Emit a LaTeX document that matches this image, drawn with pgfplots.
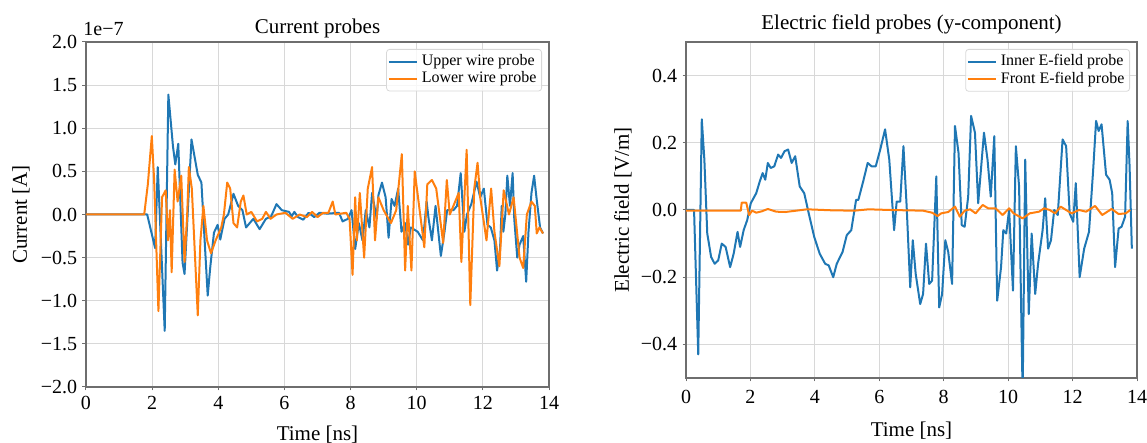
\documentclass[border=0pt]{standalone}
\usepackage{fontspec}
\setmainfont{Liberation Serif}
\usepackage{pgfplots}
\pgfplotsset{compat=1.18}
\definecolor{tabblue}{HTML}{1F77B4}
\definecolor{taborange}{HTML}{FF7F0E}
\definecolor{spine}{HTML}{6E6E6E}
\definecolor{gridc}{HTML}{D8D8D8}
\pgfplotsset{
  mystyle/.style={
    scale only axis,
    xmin=0,xmax=14, xtick={0,2,...,14},
    xticklabels={0,2,4,6,8,10,12,14},
    tick align=outside, tick pos=left,
    major tick length=1.75pt,
    every tick/.style={spine, line width=0.5pt},
    axis line style={spine, line width=0.6pt},
    grid=major, major grid style={gridc, line width=0.5pt},
    tick label style={font=\fontsize{10}{12}\selectfont, inner sep=0pt},
    yticklabel style={xshift=-2.5pt},
    label style={font=\fontsize{10.5}{12}\selectfont},
    title style={font=\fontsize{10.5}{12}\selectfont},
    legend style={font=\fontsize{8}{9}\selectfont, draw=gridc, rounded corners=1.5pt,
      fill=white, fill opacity=0.8, text opacity=1, anchor=north east,
      at={(rel axis cs:1,1)}, xshift=-3.5pt, yshift=-3.5pt, inner sep=0.6pt,
      row sep=-2.5pt, cells={anchor=west}},
    legend image code/.code={\draw[#1] (0pt,0pt) -- (14pt,0pt);},
    legend cell align=left,
    every axis plot/.append style={line width=1pt, line join=round},
  }
}
\pgfplotstableread{
t v
0 0
1.85 0
2.09 -0.39
2.17 0.55
2.38 -1.35
2.49 1.39
2.63 0.79
2.70 0.58
2.79 0.82
2.92 -0.56
2.98 -0.69
3.19 0.87
3.38 0.46
3.49 0.37
3.68 -0.94
3.76 -0.6
3.87 -0.21
3.98 -0.12
4.06 -0.29
4.19 -0.05
4.30 0.0
4.46 0.24
4.60 0.10
4.73 0.05
4.84 -0.15
5.06 -0.05
5.25 -0.17
5.44 -0.05
5.60 -0.02
5.76 0.12
5.92 0.05
6.14 0.03
6.22 -0.02
6.30 0.03
6.41 -0.03
6.57 -0.06
6.73 0.02
6.90 -0.03
7.06 0.02
7.3 0.01
7.65 0.02
7.76 -0.08
7.92 -0.05
8.03 0.05
8.14 -0.40
8.25 -0.10
8.36 -0.30
8.46 0.05
8.57 -0.15
8.65 0.25
8.79 -0.05
8.84 0.22
8.95 0.37
9.06 0.20
9.15 -0.27
9.24 0.18
9.33 0.10
9.44 0.30
9.54 -0.20
9.65 -0.10
9.74 -0.35
9.82 -0.15
10.03 -0.20
10.19 -0.30
10.30 0.15
10.36 -0.05
10.46 -0.30
10.57 0.10
10.73 -0.48
10.84 -0.20
10.92 0.05
11.11 0.05
11.22 0.10
11.33 0.48
11.44 -0.20
11.52 0.00
11.65 0.12
11.81 0.38
11.92 0.20
12.03 0.30
12.14 -0.12
12.24 -0.15
12.35 -0.30
12.43 -0.65
12.52 -0.40
12.57 0.10
12.62 -0.20
12.68 0.00
12.74 0.45
12.82 0.10
12.90 0.48
12.95 -0.05
13.04 -0.50
13.11 -0.35
13.22 -0.25
13.31 -0.78
13.38 -0.20
13.47 0.25
13.55 0.45
13.62 0.20
13.73 -0.15
13.82 -0.22
}\tabUpper
\pgfplotstableread{
t v
0 0
1.76 0
1.87 0.35
1.99 0.91
2.06 0.40
2.19 -1.12
2.30 0.20
2.41 0.28
2.48 -0.30
2.54 0.05
2.59 -0.67
2.68 0.52
2.77 0.15
2.88 0.45
2.98 -0.55
3.06 0.00
3.11 0.55
3.20 0.30
3.38 -1.17
3.46 -0.30
3.55 0.10
3.66 -0.30
3.78 -0.45
3.92 -0.30
4.09 -0.15
4.17 0.00
4.27 0.37
4.36 0.30
4.46 -0.10
4.57 -0.15
4.68 0.15
4.76 0.22
4.86 0.00
5.00 0.03
5.17 -0.08
5.33 -0.05
5.44 0.03
5.58 -0.05
5.76 0.00
6.03 0.02
6.25 -0.05
6.46 0.00
6.68 -0.03
6.84 0.03
7.00 -0.03
7.17 0.02
7.33 0.02
7.46 0.15
7.54 0.00
7.87 0.02
7.97 -0.05
8.06 -0.70
8.14 0.20
8.19 -0.30
8.28 0.25
8.41 -0.50
8.52 0.30
8.65 0.55
8.74 -0.30
8.84 0.20
9.00 0.05
9.22 -0.10
9.38 0.05
9.55 0.70
9.65 -0.65
9.73 0.10
9.84 -0.65
9.94 0.50
10.23 -0.38
10.32 0.35
10.46 0.40
10.59 0.30
10.80 -0.33
10.91 0.40
11.00 0.00
11.11 0.10
11.27 0.25
11.35 -0.55
11.51 0.75
11.62 -1.05
11.74 0.30
11.84 0.60
11.92 0.20
12.11 -0.30
12.25 0.30
12.35 -0.20
12.50 -0.60
12.63 0.28
12.79 0.00
12.93 0.20
13.11 -0.50
13.22 -0.62
13.33 0.00
13.47 0.15
13.57 0.10
13.63 -0.22
13.71 -0.15
13.82 -0.22
}\tabLower
\pgfplotstableread{
t v
0 0
0.25 0
0.38 -0.43
0.49 0.27
0.57 0.15
0.66 -0.07
0.78 -0.14
0.89 -0.16
1.00 -0.15
1.11 -0.10
1.23 -0.11
1.37 -0.17
1.48 -0.13
1.60 -0.065
1.68 -0.11
1.79 -0.06
1.90 -0.03
2.01 0.02
2.18 0.05
2.29 0.085
2.38 0.11
2.46 0.09
2.54 0.14
2.63 0.125
2.74 0.13
2.86 0.165
2.95 0.155
3.06 0.175
3.17 0.18
3.28 0.14
3.39 0.16
3.53 0.07
3.67 0.05
3.81 -0.01
3.98 -0.08
4.15 -0.13
4.32 -0.16
4.43 -0.165
4.57 -0.20
4.68 -0.16
4.86 -0.125
4.99 -0.075
5.13 -0.06
5.28 0.03
5.35 0.03
5.50 0.085
5.64 0.14
5.76 0.13
5.89 0.13
6.03 0.18
6.18 0.24
6.31 0.15
6.46 -0.06
6.54 0.025
6.65 0.025
6.75 0.19
6.85 0.01
6.96 -0.23
7.04 -0.09
7.13 -0.19
7.27 -0.28
7.36 -0.25
7.45 -0.10
7.55 -0.22
7.64 -0.21
7.77 0.10
7.86 -0.29
7.95 -0.25
8.05 -0.09
8.14 -0.125
8.26 -0.22
8.35 0.25
8.46 0.17
8.56 -0.045
8.65 -0.05
8.76 0.04
8.85 0.28
8.97 0.23
9.07 0.02
9.25 0.23
9.36 0.15
9.46 0.04
9.57 0.22
9.66 -0.27
9.78 -0.17
9.85 -0.06
9.94 -0.07
10.03 0.0
10.15 -0.24
10.24 0.19
10.34 0.07
10.45 -0.55
10.53 0.15
10.64 -0.31
10.73 -0.07
10.84 -0.25
10.93 -0.16
11.07 -0.06
11.15 0.035
11.24 -0.115
11.33 -0.09
11.43 0.0
11.54 -0.015
11.69 0.21
11.80 0.19
11.91 -0.01
12.02 -0.035
12.10 0.08
12.22 -0.20
12.36 -0.115
12.51 -0.065
12.64 0.12
12.73 0.265
12.81 0.235
12.90 0.255
13.04 0.105
13.15 0.09
13.23 0.05
13.32 -0.17
13.43 -0.055
13.52 -0.05
13.63 -0.02
13.71 0.265
13.77 0.13
13.84 -0.115
}\tabInner
\pgfplotstableread{
t v
0 -0.002
1.70 -0.002
1.73 0.022
1.87 0.022
1.96 -0.015
2.05 -0.002
2.18 -0.008
2.35 -0.004
2.54 0.003
2.80 -0.005
3.08 -0.006
3.42 -0.002
3.76 0.002
4.54 -0.001
5.22 -0.002
5.67 0.002
6.34 0.0
7.36 -0.002
7.64 -0.008
7.81 -0.018
7.92 -0.01
8.14 -0.006
8.35 0.01
8.50 -0.02
8.65 -0.002
8.82 0.002
8.99 -0.01
9.21 0.015
9.38 0.005
9.61 0.005
9.83 -0.015
10.03 0.005
10.17 -0.01
10.45 -0.025
10.67 -0.01
10.96 -0.005
11.12 0.005
11.29 0.0
11.46 -0.01
11.63 0.01
11.97 -0.01
12.20 0.0
12.42 -0.005
12.70 0.012
12.92 -0.015
13.21 0.003
13.43 -0.012
13.65 -0.01
13.79 0.0
}\tabFront
\begin{document}
\begin{tikzpicture}
\path[use as bounding box] (0,0) rectangle (573.5pt,221.5pt);
\begin{axis}[mystyle, name=left, at={(43pt,28pt)}, anchor=south west,
  width=231.5pt, height=172.5pt,
  ymin=-2, ymax=2, ytick={-2,-1.5,-1,-0.5,0,0.5,1,1.5,2},
  yticklabels={−2.0,−1.5,−1.0,−0.5,0.0,0.5,1.0,1.5,2.0},
  xticklabel style={yshift=-2.5pt},
  title={Current probes},
  title style={at={(0.5,1)}, anchor=base, yshift=-2pt},
  xlabel={Time [ns]}, ylabel={Current [A]},
  xlabel style={at={(axis description cs:0.5,0)}, anchor=center, yshift=-24pt},
  ylabel style={at={(axis description cs:-0.1404,0.5)}, anchor=center},
]
\addplot[tabblue] table[x=t,y=v] {\tabUpper};
\addlegendentry{Upper wire probe}
\addplot[taborange] table[x=t,y=v] {\tabLower};
\addlegendentry{Lower wire probe}
\end{axis}
\node[anchor=base west, inner sep=0pt, font=\fontsize{10}{12}\selectfont, xshift=-1.5pt, yshift=3pt] at (left.north west) {1e−7};
\begin{axis}[mystyle, at={(343pt,32.5pt)}, anchor=south west,
  width=225.5pt, height=168pt,
  ymin=-0.5, ymax=0.5, ytick={-0.4,-0.2,0,0.2,0.4},
  yticklabels={−0.4,−0.2,0.0,0.2,0.4},
  xticklabel style={yshift=-4pt},
  title={Electric field probes (y-component)},
  title style={at={(0.5,1)}, anchor=base, yshift=0pt},
  xlabel={Time [ns]}, ylabel={Electric field [V/m]},
  xlabel style={at={(axis description cs:0.5,0)}, anchor=center, yshift=-26.5pt},
  ylabel style={at={(axis description cs:-0.1397,0.5)}, anchor=center},
]
\addplot[tabblue] table[x=t,y=v] {\tabInner};
\addlegendentry{Inner E-field probe}
\addplot[taborange] table[x=t,y=v] {\tabFront};
\addlegendentry{Front E-field probe}
\end{axis}
\end{tikzpicture}
\end{document}
